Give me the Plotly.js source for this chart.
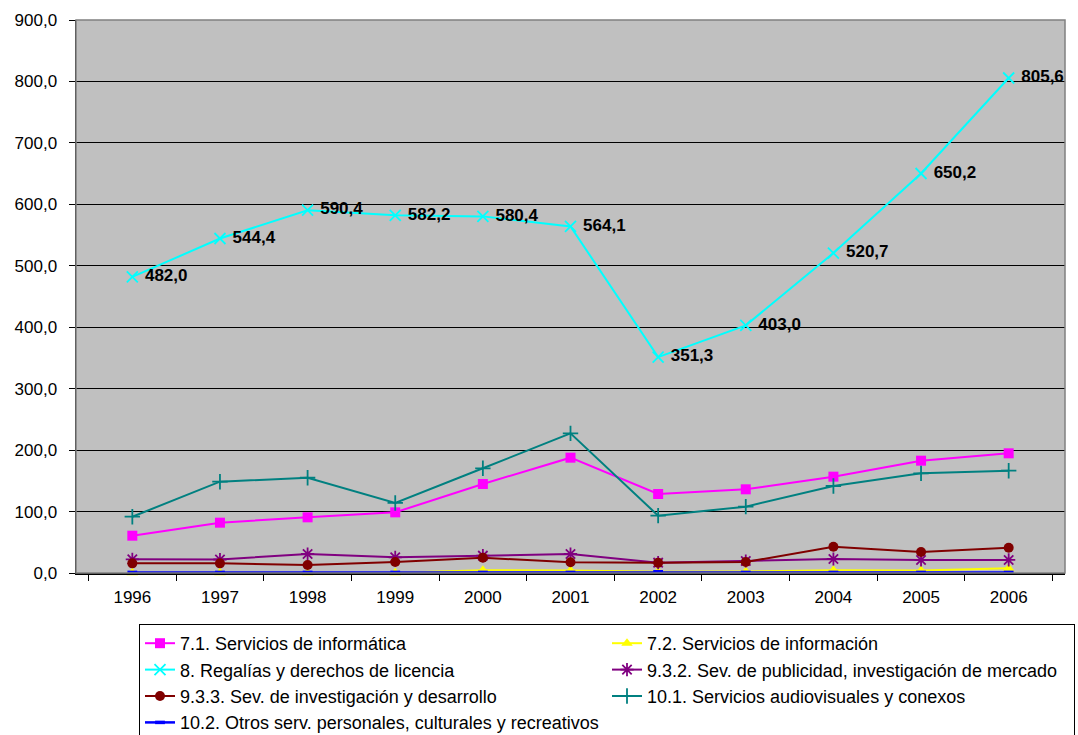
<!DOCTYPE html>
<html>
<head>
<meta charset="utf-8">
<script src="https://cdn.plot.ly/plotly-3.0.1.min.js"></script>
<style>html,body{margin:0;padding:0;background:#fff;}#chart{width:1078px;height:735px;}</style>
</head>
<body>
<div id="chart"></div>
<script>
const years = ["1996","1997","1998","1999","2000","2001","2002","2003","2004","2005","2006"];
const names = [
  "7.1. Servicios de informática",
  "7.2. Servicios de información",
  "8. Regalías y derechos de licencia",
  "9.3.2. Sev. de publicidad, investigación de mercado",
  "9.3.3. Sev. de investigación y desarrollo",
  "10.1. Servicios audiovisuales y conexos",
  "10.2. Otros serv. personales, culturales y recreativos"
];
const informatica   = [60.7, 81.9, 90.6, 98.7, 144.9, 187.7, 128.6, 136.2, 156.8, 182.8, 194.8];
const informacion   = [0.3, 0.3, 0.3, 0.5, 4.5, 4.0, 2.0, 2.5, 4.5, 4.0, 7.6];
const regalias      = [482.0, 544.4, 590.4, 582.2, 580.4, 564.1, 351.3, 403.0, 520.7, 650.2, 805.6];
const publicidad    = [22.2, 22.0, 30.9, 25.5, 28.2, 30.9, 16.8, 19.5, 22.8, 21.2, 21.2];
const investigacion = [15.7, 15.7, 13.0, 17.9, 24.9, 17.4, 16.5, 17.9, 42.8, 34.2, 41.2];
const audiovisuales = [91.6, 148.6, 155.0, 114.0, 170.4, 227.3, 93.3, 108.0, 141.6, 162.2, 166.5];
const otros         = [1.0, 1.0, 1.0, 1.0, 1.0, 1.0, 2.0, 1.0, 1.0, 1.0, 1.0];
const yTicks = [0, 100, 200, 300, 400, 500, 600, 700, 800, 900];

const fmt = v => v.toFixed(1).replace('.', ',');
const FAM = 'Arial, Liberation Sans, sans-serif';

const traces = [
  {y: informatica, name: names[0], line:{color:'#FF00FF', width:2},
   marker:{symbol:'square', size:10, color:'#FF00FF'}},
  {y: informacion, name: names[1], line:{color:'#FFFF00', width:2},
   marker:{symbol:'triangle-up', size:10, color:'#FFFF00'}, cliponaxis:false},
  {y: regalias, name: names[2], line:{color:'#00FFFF', width:2},
   marker:{symbol:'x-thin-open', size:11, color:'#00FFFF', line:{color:'#00FFFF', width:1.8}},
   mode:'lines+markers+text', text: regalias.map(v => ' ' + fmt(v)), textposition:'middle right',
   textfont:{family:FAM, size:17, color:'#000', weight:'bold'},
   cliponaxis:false},
  {y: publicidad, name: names[3], line:{color:'#800080', width:2},
   marker:{symbol:'asterisk-open', size:11, color:'#800080', line:{color:'#800080', width:1.8}}},
  {y: investigacion, name: names[4], line:{color:'#800000', width:2},
   marker:{symbol:'circle', size:10, color:'#800000'}},
  {y: audiovisuales, name: names[5], line:{color:'#008080', width:2},
   marker:{symbol:'cross-thin-open', size:11, color:'#008080', line:{color:'#008080', width:1.8}}},
  {y: otros, name: names[6], line:{color:'#0000FF', width:2.5},
   marker:{symbol:'line-ew-open', size:7, color:'#0000FF', line:{color:'#0000FF', width:3.5}},
   cliponaxis:false}
].map(t => Object.assign({type:'scatter', x: years, mode: t.mode || 'lines+markers'}, t));

const font = {family:FAM, size:17, color:'#000'};

const layout = {
  width:1078, height:735,
  margin:{l:76, r:13, t:20, b:162},
  paper_bgcolor:'#ffffff',
  plot_bgcolor:'#c0c0c0',
  font: font,
  separators: ',.',
  showlegend:true,
  xaxis:{type:'category', tickson:'boundaries', ticks:'outside', ticklen:6, tickcolor:'#000',
    showline:true, linecolor:'#000', linewidth:1.5, showgrid:false, zeroline:false,
    tickfont:font, ticklabelstandoff:8, fixedrange:true},
  yaxis:{range:[0,900], tickvals:yTicks, ticktext:yTicks.map(fmt), ticks:'outside', ticklen:6,
    tickcolor:'#000', showline:true, linecolor:'#000', linewidth:1.5, showgrid:true,
    gridcolor:'#000', gridwidth:1, zeroline:false, tickfont:font, ticklabelstandoff:8,
    fixedrange:true},
  shapes:[{type:'rect', xref:'paper', yref:'paper', x0:0, x1:1, y0:0, y1:1,
    line:{color:'#808080', width:1.5}, fillcolor:'rgba(0,0,0,0)', layer:'above'}],
  legend:{orientation:'h', x:139/1078, xref:'container', yref:'container',
    xanchor:'left', yanchor:'top', y:1 - 624/735,
    entrywidth:422, entrywidthmode:'pixels',
    bordercolor:'#000', borderwidth:1, bgcolor:'#fff',
    font:{family:FAM, size:18, color:'#000'},
    itemwidth:30, traceorder:'normal'}
};

Plotly.newPlot('chart', traces, layout, {displayModeBar:false, staticPlot:true});
</script>
</body>
</html>
